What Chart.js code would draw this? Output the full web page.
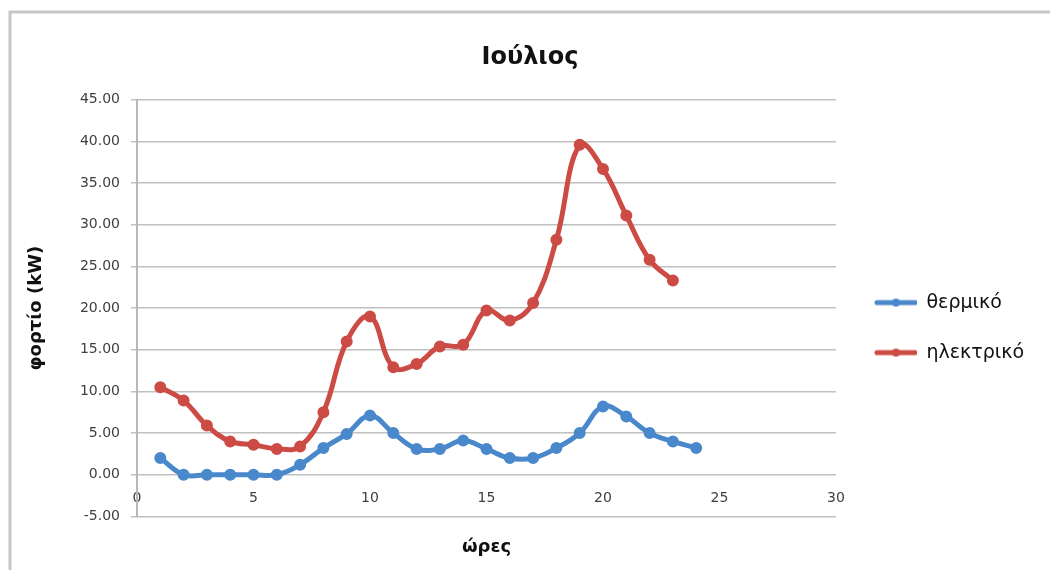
<!DOCTYPE html>
<html>
<head>
<meta charset="utf-8">
<script src="https://cdn.jsdelivr.net/npm/chart.js@4/dist/chart.umd.min.js"></script>
<style>
  html, body { margin: 0; padding: 0; background: #fff; }
  #wrap { width: 1050px; height: 570px; position: relative; }
</style>
</head>
<body>
<div id="wrap"><canvas id="myChart"></canvas></div>
<script>
// hours of the day (x values)
const hours = [1, 2, 3, 4, 5, 6, 7, 8, 9, 10, 11, 12, 13, 14, 15, 16, 17, 18, 19, 20, 21, 22, 23, 24];
// θερμικό load, kW
const thermal = [2.0, 0.0, 0.0, 0.0, 0.0, 0.0, 1.2, 3.2, 4.9, 7.1, 5.0, 3.1, 3.1, 4.1, 3.1, 2.0, 2.0, 3.2, 5.0, 8.2, 7.0, 5.0, 4.0, 3.2];
// ηλεκτρικό load, kW (no value for hour 24)
const electric = [10.5, 8.9, 5.9, 4.0, 3.6, 3.1, 3.4, 7.5, 16.0, 19.0, 12.9, 13.3, 15.4, 15.6, 19.7, 18.5, 20.6, 28.2, 39.6, 36.7, 31.1, 25.8, 23.3];
const seriesNames = ['θερμικό', 'ηλεκτρικό'];
const seriesColors = ['#4a88cc', '#cc4b45'];

// small line+dot icons for the legend
function legendIcon(color) {
    var c = document.createElement('canvas');
    c.width = 50;
    c.height = 12;
    var g = c.getContext('2d');
    g.strokeStyle = color;
    g.lineWidth = 5;
    g.lineCap = 'round';
    g.beginPath();
    g.moveTo(10, 6);
    g.lineTo(48, 6);
    g.stroke();
    g.fillStyle = color;
    g.beginPath();
    g.arc(29, 6, 4, 0, Math.PI * 2);
    g.fill();
    return c;
}
const icons = seriesColors.map(legendIcon);

// gray frame + white background like the spreadsheet chart box
const framePlugin = {
    id: 'frame',
    beforeDraw(chart) {
        const ctx = chart.ctx;
        ctx.save();
        ctx.fillStyle = '#fff';
        ctx.fillRect(0, 0, chart.width, chart.height);
        ctx.strokeStyle = '#c6c6c6';
        ctx.lineWidth = 3;
        ctx.beginPath();
        ctx.moveTo(10, chart.height);
        ctx.lineTo(10, 12);
        ctx.lineTo(chart.width, 12);
        ctx.stroke();
        ctx.restore();
    }
};

Chart.defaults.font.family = "'DejaVu Sans', sans-serif";

function initializeChart() {
    var ctx = document.getElementById('myChart').getContext('2d');
    var mychart = new Chart(ctx, {
        type: 'line',
        data: {
            datasets: [{
                label: seriesNames[0],
                data: hours.map((h, i) => ({x: h, y: thermal[i]})),
                borderColor: seriesColors[0],
                backgroundColor: seriesColors[0],
                borderWidth: 5,
                pointRadius: 3.5,
                pointHoverRadius: 3.5,
                tension: 0.4
            }, {
                label: seriesNames[1],
                data: electric.map((v, i) => ({x: hours[i], y: v})),
                borderColor: seriesColors[1],
                backgroundColor: seriesColors[1],
                borderWidth: 5,
                pointRadius: 3.5,
                pointHoverRadius: 3.5,
                tension: 0.4
            }]
        },
        options: {
            responsive: true,
            maintainAspectRatio: false,
            animation: false,
            layout: {
                padding: {left: 26, right: 16, top: 0, bottom: 0}
            },
            scales: {
                x: {
                    type: 'linear',
                    position: {y: 0},
                    min: 0,
                    max: 30,
                    grid: {display: false, drawTicks: false},
                    border: {display: false},
                    ticks: {
                        stepSize: 5,
                        padding: 15,
                        color: '#404040',
                        font: {size: 14}
                    }
                },
                y: {
                    min: -5,
                    max: 45,
                    afterFit(scale) { scale.width = 111; },
                    grid: {color: '#c0c0c0', lineWidth: 1.5, tickLength: 6},
                    border: {color: '#b8b8b8', width: 2},
                    ticks: {
                        stepSize: 5,
                        padding: 11,
                        color: '#404040',
                        font: {size: 14},
                        callback: (v) => v.toFixed(2)
                    },
                    title: {
                        display: true,
                        text: 'φορτίο (kW)',
                        color: '#111',
                        font: {size: 18, weight: 'bold'},
                        padding: {top: 0, bottom: 0}
                    }
                }
            },
            plugins: {
                title: {
                    display: true,
                    text: 'Ιούλιος',
                    color: '#111',
                    font: {size: 24, weight: 'bold'},
                    padding: {top: 43, bottom: 28}
                },
                subtitle: {
                    display: true,
                    text: 'ώρες',
                    position: 'bottom',
                    fullSize: false,
                    color: '#111',
                    font: {size: 18, weight: 'bold'},
                    padding: {top: 20, bottom: 12}
                },
                legend: {
                    position: 'right',
                    fullSize: false,
                    title: {display: true, text: '', font: {size: 10, lineHeight: 1}, padding: {top: 0, bottom: 29}},
                    labels: {
                        usePointStyle: true,
                        pointStyleWidth: 50,
                        padding: 31,
                        color: '#111',
                        font: {size: 19},
                        generateLabels(chart) {
                            const items = Chart.defaults.plugins.legend.labels.generateLabels(chart);
                            items.forEach((it, i) => { it.pointStyle = icons[i]; });
                            return items;
                        }
                    }
                },
                tooltip: {enabled: false}
            }
        },
        plugins: [framePlugin]
    });
}
initializeChart();
</script>
</body>
</html>
